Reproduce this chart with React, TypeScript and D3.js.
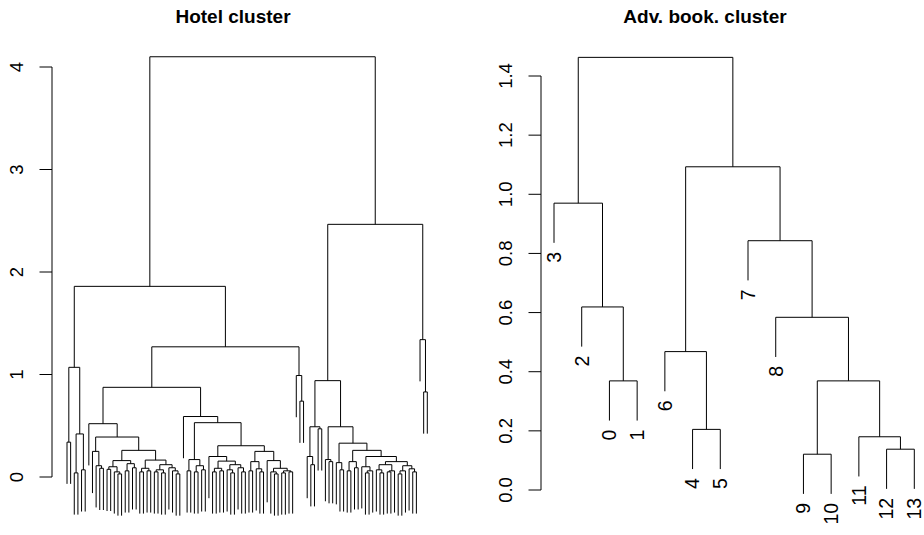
import React from "react";
import * as d3 from "d3";

// a merge is [height, left, right]; 0 is an unlabelled leaf, a string is a labelled leaf
type Node = number | string | [number, Node, Node];

// Hotel cluster, built from its sub-clusters
const hotelA1: Node = [1.07, [0.34, 0, 0], [0.42, [0.04, 0, 0], [0.07, 0, 0]]];
const hotelX: Node = [0.25, 0, [0.11, 0, [0.085, 0, 0]]];
const hotelY1: Node = [0.16, [0.1, [0.075, 0, 0], [0.05, 0, [0.03, 0, 0]]], [0.13, [0.06, 0, 0], [0.09, 0, 0]]];
const hotelY2: Node = [
  0.165,
  [0.085, [0.05, 0, 0], [0.06, 0, 0]],
  [0.12, [0.07, [0.05, 0, 0], [0.04, 0, 0]], [0.09, 0, [0.06, 0, [0.03, 0, 0]]]],
];
const hotelL1: Node = [0.52, 0, [0.39, hotelX, [0.26, hotelY1, hotelY2]]];
const hotelP: Node = [0.17, [0.06, 0, 0], [0.11, [0.05, 0, 0], [0.07, 0, 0]]];
const hotelQa: Node = [
  0.2,
  0,
  [0.155, [0.085, [0.05, 0, 0], [0.06, 0, 0]], [0.12, [0.07, 0, [0.04, 0, 0]], [0.09, 0, [0.05, 0, 0]]]],
];
const hotelQb: Node = [
  0.25,
  [0.15, [0.06, 0, 0], [0.08, 0, [0.05, 0, 0]]],
  [0.16, 0, [0.085, [0.05, 0, [0.03, 0, 0]], [0.06, [0.04, 0, 0], [0.05, 0, 0]]]],
];
const hotelR1: Node = [0.59, 0, [0.53, hotelP, [0.305, hotelQa, hotelQb]]];
const hotelA2b: Node = [0.99, 0, [0.74, 0, 0]];
const hotelBll: Node = [0.49, [0.2, 0, [0.12, 0, 0]], [0.47, 0, 0]];
const hotelC2: Node = [
  0.15,
  [0.12, [0.07, 0, [0.04, 0, 0]], [0.06, [0.05, 0, 0], 0]],
  [0.11, [0.06, [0.03, 0, 0], 0], [0.08, 0, [0.05, 0, 0]]],
];
const hotelBlr: Node = [
  0.49,
  [0.17, 0, [0.15, 0, 0]],
  [
    0.33,
    [0.14, 0, [0.07, 0, 0]],
    [0.26, [0.15, [0.06, 0, 0], [0.09, 0, 0]], [0.2, [0.1, 0, [0.06, [0.04, 0, 0], 0]], hotelC2]],
  ],
];
const hotelBr: Node = [1.34, 0, [0.83, 0, 0]];
const hotelTree: Node = [
  4.1,
  [1.86, hotelA1, [1.27, [0.875, hotelL1, hotelR1], hotelA2b]],
  [2.465, [0.94, hotelBll, hotelBlr], hotelBr],
];
const hotelTicks = [0, 1, 2, 3, 4];

// Adv. book. cluster
const advLeft: Node = [0.97, "3", [0.619, "2", [0.369, "0", "1"]]];
const advRight: Node = [
  1.093,
  [0.468, "6", [0.205, "4", "5"]],
  [0.843, "7", [0.584, "8", [0.369, [0.121, "9", "10"], [0.18, "11", [0.138, "12", "13"]]]]],
];
const advTree: Node = [1.463, advLeft, advRight];
const advTicks = [0, 0.2, 0.4, 0.6, 0.8, 1.0, 1.2, 1.4];

const FONT = "'Liberation Sans', Arial, Helvetica, sans-serif";

function countLeaves(n: Node): number {
  return Array.isArray(n) ? countLeaves(n[1]) + countLeaves(n[2]) : 1;
}
function heights(n: Node): number[] {
  return Array.isArray(n) ? [n[0], ...heights(n[1]), ...heights(n[2])] : [];
}

function dendro(root: Node, x: (i: number) => number, y: (h: number) => number) {
  const hs = heights(root);
  const hang = 0.1 * ((d3.max(hs) ?? 0) - (d3.min(hs) ?? 0));
  const paths: string[] = [];
  const labels: { x: number; y: number; text: string }[] = [];
  let k = 0;
  const walk = (n: [number, Node, Node]): number => {
    const [h, a, b] = n;
    const ends = [a, b].map((c) => {
      if (Array.isArray(c)) return { x: walk(c), y: y(c[0]) };
      const px = x(k++);
      const py = y(h - hang);
      if (typeof c === "string") labels.push({ x: px, y: py, text: c });
      return { x: px, y: py };
    });
    paths.push(`M${ends[0].x},${ends[0].y}V${y(h)}H${ends[1].x}V${ends[1].y}`);
    return (ends[0].x + ends[1].x) / 2;
  };
  walk(root as [number, Node, Node]);
  return { paths, labels };
}

type PanelProps = {
  tree: Node;
  ticks: number[];
  fmt: (v: number) => string;
  title: string;
  titleX: number;
  axisX: number;
  xRange: [number, number];
  yRange: [number, number];
};

const Panel: React.FC<PanelProps> = ({ tree, ticks, fmt, title, titleX, axisX, xRange, yRange }) => {
  const n = countLeaves(tree);
  const x = d3.scaleLinear().domain([0, n - 1]).range(xRange);
  const y = d3.scaleLinear().domain([0, ticks[ticks.length - 1]]).range(yRange);
  const { paths, labels } = dendro(tree, x, y);

  return (
    <g fontFamily={FONT}>
      <text x={titleX} y={23} textAnchor="middle" fontWeight="bold" fontSize={19}>
        {title}
      </text>

      {/* Y axis */}
      <line x1={axisX} x2={axisX} y1={y(ticks[0])} y2={y(ticks[ticks.length - 1])} stroke="#000" />
      {ticks.map((t) => (
        <g key={t}>
          <line x1={axisX - 12.5} x2={axisX} y1={y(t)} y2={y(t)} stroke="#000" />
          <text
            transform={`translate(${axisX - 29},${y(t)}) rotate(-90)`}
            textAnchor="middle"
            fontSize={18.5}
          >
            {fmt(t)}
          </text>
        </g>
      ))}

      {/* Tree */}
      {paths.map((d, i) => (
        <path key={i} d={d} fill="none" stroke="#000" strokeWidth={1} />
      ))}
      {labels.map((l) => (
        <text
          key={l.text}
          transform={`translate(${l.x},${l.y + 9}) rotate(-90)`}
          textAnchor="end"
          dy="0.35em"
          fontSize={19.5}
        >
          {l.text}
        </text>
      ))}
    </g>
  );
};

export default function App() {
  return (
    <svg
      width={924}
      height={535}
      style={{ position: "absolute", left: 0, top: 0, background: "#fff" }}
    >
      <Panel
        tree={hotelTree}
        ticks={hotelTicks}
        fmt={d3.format("d")}
        title="Hotel cluster"
        titleX={233}
        axisX={52}
        xRange={[67, 427.3]}
        yRange={[477, 67]}
      />
      <Panel
        tree={advTree}
        ticks={advTicks}
        fmt={d3.format(".1f")}
        title="Adv. book. cluster"
        titleX={705}
        axisX={541}
        xRange={[554, 914.3]}
        yRange={[490, 76]}
      />
    </svg>
  );
}
